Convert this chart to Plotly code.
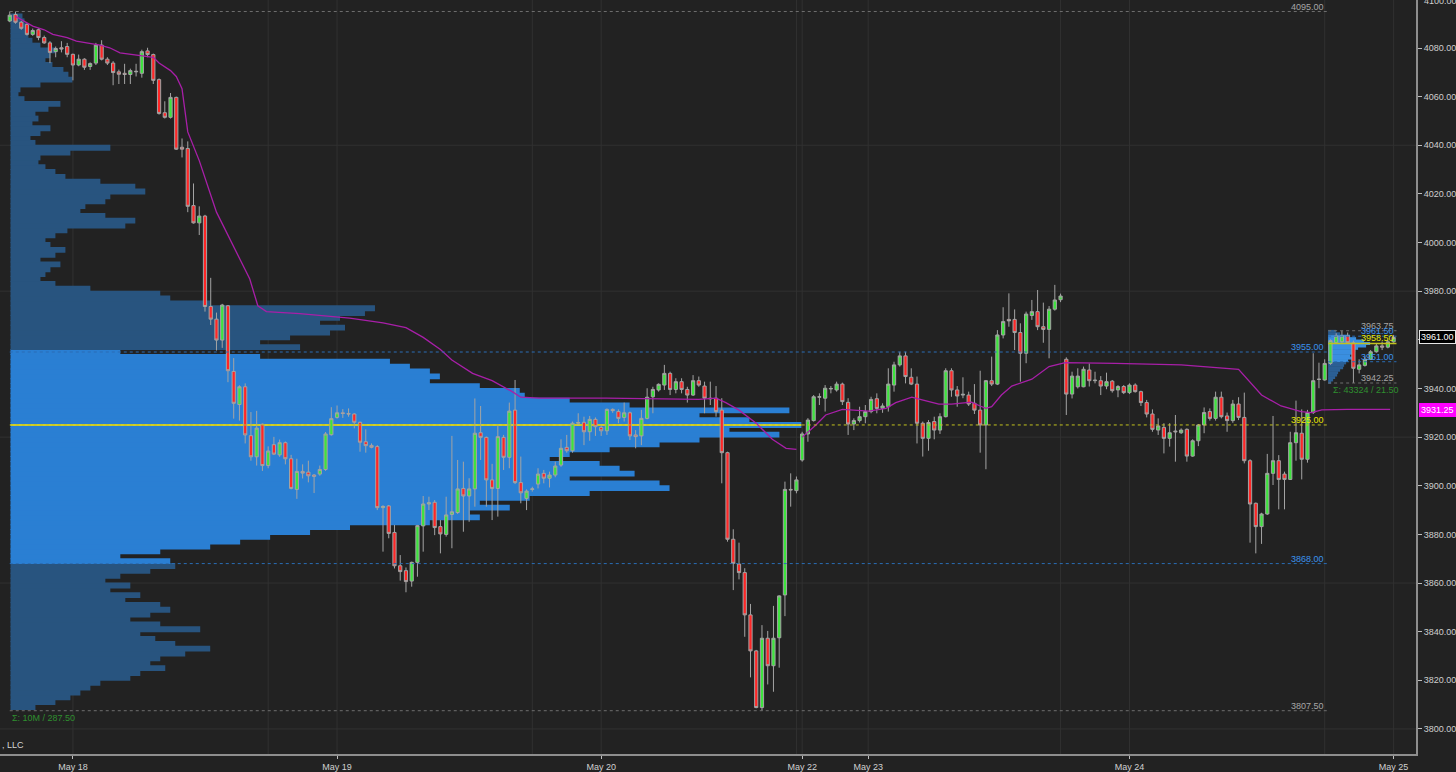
import plotly.graph_objects as go

# ---------------- DATA ----------------
bar_index = list(range(1, 243))   # 30-minute bars, 17 May 18:00 .. 25 May 00:00 (session gaps removed)

opens = [
    4091.1, 4093.8, 4090.6, 4089.7, 4085.6, 4087.5, 4084.3, 4082.1, 4078.5, 4080.1,
    4080.6, 4077.4, 4073.0, 4075.4, 4072.4, 4073.8, 4081.2, 4075.4, 4073.8, 4070.2,
    4069.6, 4069.1, 4070.2, 4069.6, 4078.8, 4077.3, 4067.0, 4053.4, 4051.5, 4059.7,
    4039.2, 4038.7, 4015.2, 4008.1, 4010.9, 3973.7, 3968.5, 3959.9, 3974.0, 3947.0,
    3933.4, 3940.7, 3920.6, 3911.9, 3925.3, 3908.3, 3916.9, 3912.7, 3917.7, 3911.1,
    3898.5, 3905.9, 3905.6, 3904.4, 3904.8, 3906.7, 3921.0, 3928.1, 3930.0, 3929.7,
    3929.5, 3926.1, 3918.1, 3916.6, 3916.1, 3891.0, 3891.7, 3880.8, 3867.1, 3865.1,
    3860.8, 3868.5, 3883.5, 3892.5, 3893.2, 3883.2, 3880.0, 3888.2, 3889.0, 3898.9,
    3895.8, 3898.7, 3921.8, 3919.9, 3902.4, 3898.9, 3919.9, 3911.7, 3931.1, 3901.3,
    3894.8, 3898.5, 3900.7, 3905.1, 3903.1, 3904.4, 3908.5, 3915.8, 3914.4, 3925.7,
    3926.1, 3922.2, 3927.3, 3924.0, 3922.6, 3931.4, 3930.5, 3928.1, 3930.0, 3920.9,
    3920.5, 3927.7, 3936.6, 3939.4, 3941.4, 3946.2, 3939.6, 3942.8, 3939.6, 3937.3,
    3943.2, 3941.0, 3936.0, 3936.0, 3931.1, 3913.6, 3878.0, 3867.8, 3864.3, 3846.9,
    3832.1, 3808.8, 3837.3, 3826.0, 3837.5, 3855.1, 3898.5, 3898.0, 3910.6, 3921.3,
    3926.8, 3936.4, 3936.0, 3939.8, 3939.4, 3941.8, 3934.3, 3925.4, 3926.8, 3928.4,
    3930.5, 3935.8, 3931.8, 3932.5, 3941.4, 3949.7, 3953.4, 3944.6, 3941.8, 3925.7,
    3919.5, 3926.4, 3922.9, 3928.4, 3947.3, 3939.4, 3937.3, 3937.3, 3933.9, 3931.1,
    3925.0, 3943.2, 3941.8, 3962.0, 3968.4, 3968.4, 3963.0, 3954.5, 3970.0, 3971.6,
    3965.4, 3964.3, 3972.6, 3976.5, 3952.0, 3937.7, 3940.7, 3940.7, 3947.6, 3943.2,
    3943.2, 3941.0, 3943.0, 3939.4, 3940.8, 3938.3, 3941.4, 3938.7, 3934.2, 3929.5,
    3922.9, 3924.0, 3919.5, 3922.5, 3921.8, 3923.2, 3912.2, 3918.5, 3925.0, 3930.5,
    3927.7, 3936.4, 3928.7, 3926.8, 3933.6, 3928.1, 3910.3, 3892.8, 3883.2, 3888.4,
    3905.1, 3910.3, 3904.8, 3902.6, 3917.7, 3921.6, 3910.9, 3930.1, 3943.7, 3943.5,
    3950.3, 3958.8, 3959.2, 3961.6, 3958.8, 3947.9, 3949.5, 3952.0, 3955.1, 3957.5,
    3957.0, 3959.2,
]
highs = [
    4095.0, 4095.0, 4091.1, 4090.2, 4088.0, 4088.1, 4085.1, 4082.8, 4080.6, 4082.8,
    4082.1, 4077.7, 4077.3, 4075.8, 4074.1, 4082.1, 4083.2, 4076.2, 4074.6, 4071.1,
    4073.5, 4071.5, 4073.5, 4079.3, 4080.1, 4077.7, 4067.5, 4058.1, 4061.5, 4060.0,
    4042.8, 4041.6, 4024.3, 4014.9, 4011.4, 3985.5, 3971.2, 3974.8, 3974.3, 3952.5,
    3941.3, 3942.1, 3930.3, 3930.8, 3925.6, 3916.2, 3920.1, 3919.0, 3918.2, 3912.7,
    3911.1, 3908.8, 3910.3, 3904.8, 3908.3, 3922.1, 3932.3, 3933.0, 3931.5, 3931.8,
    3929.8, 3926.4, 3923.2, 3917.4, 3916.7, 3892.0, 3892.1, 3883.9, 3871.5, 3866.4,
    3868.8, 3883.9, 3895.8, 3895.5, 3894.1, 3885.9, 3895.5, 3920.5, 3910.6, 3909.9,
    3903.1, 3935.9, 3932.8, 3920.2, 3909.0, 3925.0, 3920.9, 3934.2, 3943.5, 3912.0,
    3898.5, 3899.6, 3907.2, 3906.5, 3905.8, 3909.9, 3919.1, 3920.9, 3926.4, 3929.8,
    3928.4, 3928.7, 3928.1, 3925.0, 3931.8, 3931.8, 3931.4, 3934.2, 3930.5, 3922.9,
    3931.2, 3940.1, 3940.7, 3942.1, 3949.7, 3946.9, 3944.2, 3944.2, 3940.7, 3945.5,
    3944.9, 3942.8, 3942.8, 3941.0, 3936.0, 3914.0, 3882.1, 3876.6, 3866.1, 3851.4,
    3832.5, 3842.7, 3840.3, 3850.6, 3855.0, 3901.7, 3905.1, 3903.8, 3922.2, 3927.8,
    3937.3, 3938.0, 3941.4, 3941.0, 3942.8, 3942.4, 3936.0, 3927.7, 3932.5, 3933.2,
    3936.6, 3938.0, 3933.9, 3948.3, 3951.0, 3955.1, 3955.1, 3948.3, 3944.9, 3926.4,
    3927.0, 3928.4, 3929.8, 3948.3, 3948.3, 3941.0, 3944.6, 3938.7, 3941.8, 3947.3,
    3943.5, 3953.1, 3964.0, 3973.4, 3979.1, 3972.5, 3966.8, 3971.6, 3976.4, 3980.5,
    3975.3, 3973.9, 3982.6, 3979.0, 3952.8, 3946.9, 3948.3, 3949.0, 3950.3, 3946.9,
    3945.1, 3946.5, 3943.5, 3941.4, 3941.4, 3942.1, 3942.1, 3939.1, 3935.3, 3931.4,
    3927.7, 3925.7, 3925.7, 3929.1, 3923.6, 3923.6, 3919.1, 3925.4, 3932.2, 3931.8,
    3938.7, 3938.7, 3930.1, 3935.3, 3936.4, 3938.3, 3910.9, 3893.1, 3888.9, 3913.1,
    3928.7, 3912.6, 3905.8, 3922.2, 3935.0, 3931.4, 3931.2, 3954.5, 3950.6, 3952.0,
    3960.2, 3962.7, 3963.75, 3963.0, 3959.7, 3952.0, 3953.4, 3955.8, 3958.6, 3959.3,
    3960.0, 3962.0,
]
lows = [
    4090.6, 4090.0, 4087.5, 4085.1, 4085.0, 4083.2, 4081.7, 4073.8, 4076.2, 4078.2,
    4076.2, 4066.7, 4072.5, 4071.0, 4071.0, 4073.0, 4074.9, 4073.0, 4064.7, 4065.2,
    4065.2, 4065.2, 4068.3, 4067.8, 4076.2, 4065.2, 4052.6, 4051.0, 4051.0, 4038.1,
    4035.0, 4012.5, 4007.8, 4003.1, 3971.6, 3966.1, 3955.6, 3956.7, 3942.6, 3927.6,
    3926.8, 3917.4, 3910.3, 3908.3, 3906.1, 3907.2, 3912.7, 3911.9, 3908.8, 3898.5,
    3894.6, 3903.0, 3901.4, 3897.0, 3904.1, 3906.1, 3920.6, 3927.6, 3927.9, 3928.4,
    3923.6, 3914.0, 3913.6, 3915.4, 3890.0, 3872.9, 3878.4, 3866.0, 3861.0, 3856.2,
    3858.5, 3862.6, 3872.9, 3890.0, 3879.7, 3872.2, 3879.1, 3874.3, 3888.4, 3881.1,
    3885.2, 3891.4, 3910.6, 3891.4, 3885.9, 3887.3, 3906.5, 3907.2, 3900.7, 3892.8,
    3890.0, 3897.6, 3898.9, 3901.0, 3899.3, 3903.5, 3907.8, 3913.6, 3913.6, 3925.0,
    3916.7, 3918.5, 3920.5, 3920.5, 3920.9, 3930.0, 3925.7, 3926.4, 3918.8, 3915.4,
    3916.7, 3927.3, 3929.8, 3938.7, 3939.4, 3937.3, 3938.0, 3938.0, 3934.2, 3936.9,
    3940.7, 3929.8, 3933.2, 3928.4, 3901.0, 3877.0, 3857.1, 3861.5, 3837.9, 3821.2,
    3808.5, 3807.5, 3818.3, 3815.3, 3825.2, 3846.4, 3891.4, 3896.9, 3909.9, 3918.1,
    3926.4, 3933.2, 3930.5, 3938.0, 3938.7, 3933.2, 3920.9, 3922.9, 3926.0, 3925.7,
    3929.8, 3929.8, 3930.0, 3930.5, 3938.7, 3949.0, 3942.1, 3941.4, 3917.4, 3912.0,
    3914.4, 3919.1, 3921.3, 3928.1, 3936.6, 3932.5, 3936.0, 3932.8, 3929.5, 3913.6,
    3906.8, 3941.0, 3941.4, 3960.6, 3965.4, 3955.8, 3942.8, 3950.4, 3968.2, 3964.0,
    3958.8, 3952.4, 3972.0, 3975.5, 3929.1, 3935.9, 3940.0, 3940.5, 3940.8, 3942.1,
    3937.3, 3939.7, 3938.3, 3936.4, 3937.7, 3937.7, 3938.3, 3932.8, 3928.1, 3922.2,
    3920.9, 3913.3, 3916.1, 3909.9, 3921.3, 3909.9, 3911.9, 3916.3, 3921.6, 3926.8,
    3926.8, 3927.7, 3922.2, 3925.9, 3927.0, 3909.2, 3876.6, 3872.2, 3876.1, 3888.0,
    3900.3, 3890.3, 3890.3, 3902.4, 3910.3, 3902.6, 3909.5, 3929.5, 3940.1, 3943.2,
    3949.7, 3958.3, 3958.8, 3958.6, 3942.25, 3946.2, 3949.0, 3951.7, 3954.7, 3955.8,
    3956.5, 3958.8,
]
closes = [
    4093.5, 4090.6, 4088.1, 4085.6, 4087.2, 4084.3, 4082.1, 4078.2, 4079.8, 4079.6,
    4077.4, 4073.0, 4075.4, 4072.1, 4073.6, 4081.2, 4075.4, 4073.8, 4069.9, 4069.2,
    4069.1, 4070.7, 4070.4, 4078.5, 4077.3, 4066.7, 4053.1, 4051.5, 4059.7, 4038.4,
    4038.4, 4014.9, 4008.1, 4010.9, 3973.7, 3968.5, 3959.9, 3974.3, 3947.3, 3933.9,
    3940.7, 3920.9, 3911.9, 3923.7, 3908.3, 3914.3, 3913.0, 3917.7, 3911.1, 3898.9,
    3905.9, 3905.2, 3904.1, 3903.9, 3906.7, 3921.3, 3927.6, 3930.0, 3929.7, 3929.5,
    3926.1, 3917.9, 3916.5, 3915.8, 3891.0, 3891.5, 3880.4, 3867.1, 3864.7, 3860.6,
    3868.5, 3883.6, 3892.5, 3893.0, 3882.8, 3880.2, 3888.0, 3889.3, 3898.7, 3895.8,
    3898.7, 3921.6, 3919.9, 3902.4, 3898.9, 3920.2, 3911.7, 3930.7, 3901.3, 3897.1,
    3897.8, 3898.7, 3904.8, 3903.1, 3904.4, 3908.1, 3915.4, 3914.4, 3925.7, 3926.0,
    3922.2, 3927.3, 3924.3, 3922.6, 3931.4, 3930.9, 3927.7, 3930.0, 3920.5, 3920.2,
    3927.7, 3936.4, 3939.6, 3941.7, 3946.2, 3939.6, 3942.8, 3939.6, 3937.3, 3943.2,
    3941.4, 3936.0, 3935.8, 3930.5, 3913.6, 3878.0, 3868.1, 3864.3, 3846.9, 3832.1,
    3808.8, 3837.3, 3826.0, 3837.3, 3854.7, 3898.5, 3898.3, 3902.4, 3921.3, 3927.0,
    3936.6, 3936.6, 3940.1, 3940.0, 3941.8, 3934.6, 3925.4, 3926.8, 3928.4, 3930.5,
    3935.5, 3931.8, 3932.8, 3941.8, 3949.7, 3953.4, 3944.9, 3941.8, 3925.7, 3919.5,
    3926.0, 3922.9, 3928.4, 3947.3, 3939.4, 3936.9, 3937.6, 3933.6, 3931.1, 3925.0,
    3943.2, 3941.8, 3962.0, 3967.5, 3967.8, 3963.0, 3954.5, 3970.6, 3971.6, 3965.4,
    3964.3, 3972.6, 3976.4, 3978.0, 3937.7, 3945.1, 3945.1, 3947.9, 3943.2, 3943.4,
    3941.0, 3942.8, 3939.1, 3940.8, 3938.3, 3941.4, 3938.7, 3934.2, 3929.5, 3923.2,
    3924.6, 3919.5, 3921.8, 3922.2, 3922.9, 3912.2, 3918.5, 3925.0, 3930.1, 3927.7,
    3936.4, 3928.4, 3926.8, 3933.6, 3928.1, 3910.3, 3892.5, 3883.2, 3888.4, 3905.1,
    3910.3, 3902.6, 3902.6, 3917.7, 3921.8, 3910.9, 3930.1, 3943.2, 3943.8, 3950.3,
    3959.7, 3961.6, 3961.6, 3958.8, 3948.3, 3949.7, 3952.0, 3955.1, 3957.5, 3957.0,
    3959.2, 3961.0,
]

# VWAP (read at points along the line), two anchored segments
vwap1_bars = [2, 5, 7, 8.5, 11, 12.6, 16.7, 18.4, 20.2, 23.7, 26, 27, 29, 30, 31, 32, 34, 37,
              39.8, 42.8, 44.2, 45.7, 51.5, 60.2, 66, 70, 73, 76, 78, 81.6, 85, 88.5, 90,
              93.2, 104.9, 121, 124, 125.7, 128, 131, 133.8, 136.2, 138]
vwap1_vals = [4093.0, 4089.0, 4087.5, 4085.6, 4084.3, 4082.8, 4081.2, 4080.1, 4078.0, 4076.9,
              4076.2, 4073.8, 4070.7, 4068.3, 4063.3, 4045.5, 4033.7, 4012.5, 3999.1, 3985.0,
              3974.0, 3971.6, 3970.8, 3968.9, 3967.0, 3965.0, 3961.0, 3956.0, 3951.7, 3946.2,
              3943.2, 3938.7, 3936.4, 3936.0, 3936.0, 3935.5, 3936.0, 3934.2, 3931.1, 3925.7,
              3919.1, 3915.4, 3915.0]
vwap2_bars = [139, 141.4, 143.1, 146, 150.6, 153.6, 155.3, 158.1, 159.9, 162.8, 165, 168.5,
              170, 171, 172, 173.7, 175.5, 179, 182, 184.8, 193.5, 205, 215, 216.7, 219,
              222.4, 225.9, 227.7, 229.5, 234, 241.4]
vwap2_vals = [3920.0, 3925.0, 3929.1, 3931.4, 3930.7, 3931.8, 3934.2, 3936.4, 3935.3, 3933.6,
              3933.6, 3934.4, 3932.8, 3931.8, 3932.5, 3937.3, 3941.0, 3943.8, 3949.0, 3950.6,
              3950.3, 3949.7, 3947.9, 3943.5, 3937.3, 3932.8, 3930.5, 3930.1, 3931.2, 3931.4,
              3931.4]

# Composite volume profile: 2-point price bins starting at 3809 (relative volume)
profile_bin_start = 3809
profile_bin_size = 2
profile_volume = [
    25, 45, 60, 70, 80, 90, 120, 130, 155, 140,          # 3809-3827
    150, 175, 200, 165, 145, 130, 190, 150, 120, 140,    # 3829-3847
    160, 150, 115, 130, 100, 120, 95, 110, 140, 165,     # 3849-3867
    160, 110, 150, 200, 230, 260, 300, 340, 420, 470,    # 3869-3887
    460, 500, 470, 520, 580, 660, 650, 560, 625, 610,    # 3889-3907
    590, 540, 560, 600, 650, 690, 770, 720, 792, 740,    # 3909-3927
    690, 780, 620, 560, 515, 510, 470, 420, 430, 420,    # 3929-3947
    400, 380, 250, 110, 290, 250, 280, 320, 335, 310,    # 3949-3967
    330, 355, 365, 200, 160, 150, 80, 45, 30, 35,        # 3969-3987
    40, 50, 30, 45, 55, 40, 35, 45, 57, 115,             # 3989-4007
    125, 95, 70, 75, 95, 100, 135, 125, 90, 55,          # 4009-4027
    45, 35, 28, 30, 60, 100, 25, 20, 30, 40,             # 4029-4047
    22, 28, 25, 38, 50, 14, 8, 10, 30, 62,               # 4049-4067
    58, 53, 42, 35, 40, 45, 30, 22, 18, 15,              # 4069-4087
    16, 14, 12,                                          # 4089-4093
]
profile_levels = [4095.00, 3955.00, 3925.00, 3868.00, 3807.50]   # high, VAH, POC, VAL, low
profile_labels = ["4095.00", "3955.00", "3925.00", "3868.00", "3807.50"]
profile_summary = "Σ: 10M / 287.50"

# Current-session profile (1-point bins)
session_bin_start = 3942.5
session_volume = [3, 5, 7, 9, 10, 12, 15, 16, 18, 20, 24, 22, 25, 27, 30, 38, 42, 36, 28, 22, 12, 8]
session_levels = [3963.75, 3961.50, 3958.50, 3951.00, 3942.25]  # high, VAH, POC, VAL, low
session_labels = ["3963.75", "3961.50", "3958.50", "3951.00", "3942.25"]
session_summary = "Σ: 43324 / 21.50"

last_price = 3961.00
vwap_last = 3931.25

date_tick_bars = [12, 58, 104, 139, 150.5, 196, 242]
date_tick_text = ["May 18", "May 19", "May 20", "May 22", "May 23", "May 24", "May 25"]
session_end_bars = [46, 92, 138, 184, 230]
grid_prices = [3800, 3860, 3920, 3980, 4040]
price_ticks = [3800, 3820, 3840, 3860, 3880, 3900, 3920, 3940, 3960, 3980,
               4000, 4020, 4040, 4060, 4080]
top_tick_label = "4100.00"

# ---------------- STYLE / LAYOUT ----------------
BG = "#222222"
FONT = "Liberation Sans"
W, H = 1456, 772
M_L, M_R, M_T, M_B = 0, 38, 0, 18
plot_w = W - M_L - M_R
X_RANGE = [-0.7, 245.9]
Y_RANGE = [3789.7, 4099.74]

C_GRAY_LINE, C_GRAY_TXT = "#6e6e6e", "#a6a6a6"
C_BLUE_LINE, C_BLUE_TXT = "#2a6db5", "#3a92ee"
C_YEL_LINE, C_YEL_TXT = "#c2c21e", "#e8e800"
level_line_colors = [C_GRAY_LINE, C_BLUE_LINE, C_YEL_LINE, C_BLUE_LINE, C_GRAY_LINE]
level_text_colors = [C_GRAY_TXT, C_BLUE_TXT, C_YEL_TXT, C_BLUE_TXT, C_GRAY_TXT]

fig = go.Figure()

# big profile on base axis x (volume scale)
prof_left_px, prof_poc_px = 10.5, 792
vmax = max(profile_volume)
kpx = vmax / prof_poc_px
profile_prices = [profile_bin_start + profile_bin_size * k for k in range(len(profile_volume))]
va_hi, poc_lvl, va_lo = profile_levels[1], profile_levels[2], profile_levels[3]
prof_colors = ["#2a7fd3" if va_lo <= p <= va_hi else "#28547f" for p in profile_prices]
fig.add_trace(go.Bar(y=profile_prices, x=profile_volume, orientation="h",
                     width=profile_bin_size * 1.2,
                     marker=dict(color=prof_colors, line=dict(width=0)),
                     xaxis="x", yaxis="y", hoverinfo="skip", showlegend=False))
fig.add_trace(go.Scatter(x=[0, vmax], y=[poc_lvl, poc_lvl], mode="lines",
                         line=dict(color="#cfcf2a", width=2), xaxis="x", yaxis="y",
                         hoverinfo="skip", showlegend=False))

# session profile on x2
sess_left_bar, sess_right_bar = 230.6, 242.5
px_per_bar = plot_w / (X_RANGE[1] - X_RANGE[0])
sess_left_px = (sess_left_bar - X_RANGE[0]) * px_per_bar
sess_poc_px = 42
smax = max(session_volume)
kpx2 = smax / sess_poc_px
session_prices = [session_bin_start + k for k in range(len(session_volume))]
s_vah, s_val = session_levels[1], session_levels[3]
sess_colors = ["#3a8fe0" if s_val <= p <= s_vah else "#2b5f94" for p in session_prices]
fig.add_trace(go.Bar(y=session_prices, x=session_volume, orientation="h", width=1.2,
                     marker=dict(color=sess_colors, line=dict(width=0)),
                     xaxis="x2", yaxis="y", hoverinfo="skip", showlegend=False))

# candles + vwap on x3
fig.add_trace(go.Candlestick(
    x=bar_index, open=opens, high=highs, low=lows, close=closes,
    increasing=dict(fillcolor="#3de43d", line=dict(color="#a4a4a4", width=1)),
    decreasing=dict(fillcolor="#ff2626", line=dict(color="#a4a4a4", width=1)),
    whiskerwidth=0, xaxis="x3", yaxis="y", hoverinfo="skip", showlegend=False))
for xs, ys in ((vwap1_bars, vwap1_vals), (vwap2_bars, vwap2_vals)):
    fig.add_trace(go.Scatter(x=xs, y=ys, mode="lines", line=dict(color="#a81fa8", width=1.3),
                             xaxis="x3", yaxis="y", hoverinfo="skip", showlegend=False))

shapes = []
for gp in grid_prices:
    shapes.append(dict(type="line", xref="paper", yref="y", x0=0, x1=1, y0=gp, y1=gp,
                       line=dict(color="#313131", width=1), layer="below"))
for gb in date_tick_bars + session_end_bars:
    shapes.append(dict(type="line", xref="x3", yref="paper", x0=gb, x1=gb, y0=0, y1=1,
                       line=dict(color="#313131", width=1), layer="below"))

annotations = []
lbl_font = dict(family=FONT, size=9)
for lvl, txt, lc, tc in zip(profile_levels, profile_labels, level_line_colors, level_text_colors):
    shapes.append(dict(type="line", xref="x3", yref="y", x0=1, x1=sess_left_bar, y0=lvl, y1=lvl,
                       line=dict(color=lc, width=1, dash="dot"), layer="above"))
    annotations.append(dict(xref="x3", yref="y", x=sess_left_bar - 0.3, y=lvl, text=txt,
                            showarrow=False, xanchor="right", yanchor="bottom", yshift=-2,
                            font=dict(lbl_font, color=tc)))
for k, (lvl, txt, lc, tc) in enumerate(zip(session_levels, session_labels,
                                           level_line_colors, level_text_colors)):
    shapes.append(dict(type="line", xref="x3", yref="y", x0=sess_left_bar, x1=sess_right_bar,
                       y0=lvl, y1=lvl,
                       line=dict(color=lc, width=1 if k != 2 else 1.5,
                                 dash="dot" if k != 2 else "solid"), layer="above"))
    annotations.append(dict(xref="x3", yref="y", x=sess_right_bar, y=lvl, text=txt,
                            showarrow=False, xanchor="right", yanchor="bottom", yshift=-2,
                            font=dict(lbl_font, color=tc)))

annotations.append(dict(xref="x3", yref="y", x=1, y=profile_levels[-1], text=profile_summary,
                        showarrow=False, xanchor="left", yanchor="top",
                        font=dict(lbl_font, color="#2f8f2f")))
annotations.append(dict(xref="x3", yref="y", x=sess_left_bar + 0.5, y=session_levels[-1],
                        text=session_summary, showarrow=False, xanchor="left", yanchor="top",
                        font=dict(lbl_font, color="#2f8f2f")))
annotations.append(dict(xref="paper", yref="paper", x=0, y=0.012, text=", LLC", showarrow=False,
                        xanchor="left", yanchor="middle",
                        font=dict(family=FONT, size=9, color="#d6d6d6")))
# right-axis value markers
annotations.append(dict(xref="paper", yref="y", x=1, xshift=3, y=last_price,
                        text=f"{last_price:.2f}", showarrow=False, xanchor="left", yanchor="middle",
                        bgcolor="#000000", bordercolor="#e6e6e6", borderwidth=1, borderpad=1,
                        font=dict(family=FONT, size=9, color="#ffffff")))
annotations.append(dict(xref="paper", yref="y", x=1, xshift=3, y=vwap_last,
                        text=f"{vwap_last:.2f}", showarrow=False, xanchor="left", yanchor="middle",
                        bgcolor="#ff00ff", bordercolor="#ff00ff", borderwidth=1, borderpad=1,
                        font=dict(family=FONT, size=9, color="#ffffff")))
annotations.append(dict(xref="paper", yref="paper", x=1, xshift=6, y=1, yshift=-1,
                        text=top_tick_label, showarrow=False, xanchor="left", yanchor="middle",
                        font=dict(family=FONT, size=9, color="#cfcfcf")))

# tick labels: the one hidden under the last-price marker is left blank
tick_text = ["" if abs(t - last_price) < 5 else f"{t:.2f}" for t in price_ticks]

fig.update_layout(
    width=W, height=H,
    margin=dict(l=M_L, r=M_R, t=M_T, b=M_B, pad=0),
    paper_bgcolor=BG, plot_bgcolor=BG,
    font=dict(family=FONT, size=9, color="#cfcfcf"),
    showlegend=False, hovermode=False,
    barmode="overlay", boxgap=0.2,
    xaxis=dict(range=[-prof_left_px * kpx, (plot_w - prof_left_px) * kpx], visible=False,
               fixedrange=True, rangeslider=dict(visible=False)),
    xaxis2=dict(overlaying="x", anchor="y",
                range=[-sess_left_px * kpx2, (plot_w - sess_left_px) * kpx2],
                visible=False, fixedrange=True),
    xaxis3=dict(overlaying="x", anchor="y", side="bottom", range=X_RANGE,
                tickmode="array", tickvals=date_tick_bars, ticktext=date_tick_text,
                ticks="outside", ticklen=3, tickcolor="#bdbdbd",
                showline=True, linecolor="#8e8e8e", linewidth=2,
                showgrid=False, zeroline=False, rangeslider=dict(visible=False),
                tickfont=dict(family=FONT, size=9, color="#d0d0d0")),
    yaxis=dict(side="right", range=Y_RANGE, tickmode="array", tickvals=price_ticks,
               ticktext=tick_text, ticks="outside", ticklen=4, tickcolor="#bdbdbd",
               showline=True, linecolor="#8e8e8e", linewidth=2,
               showgrid=False, zeroline=False,
               tickfont=dict(family=FONT, size=9, color="#cfcfcf")),
    shapes=shapes, annotations=annotations,
)

fig.write_html("out.html", config={"displayModeBar": False, "staticPlot": True},
               post_script="document.body.style.margin='0';document.body.style.background='#222222';")
